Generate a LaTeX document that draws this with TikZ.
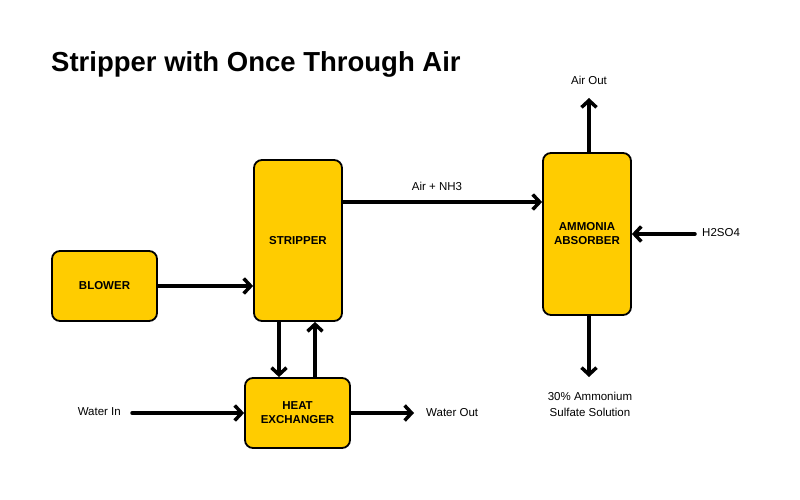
\documentclass[tikz,border=0pt]{standalone}
\usepackage{fontspec}
\setmainfont{Liberation Sans}
\usetikzlibrary{arrows.meta}
\definecolor{boxyellow}{HTML}{FFCC00}
\begin{document}
\begin{tikzpicture}[x=1pt,y=-1pt,
  unit/.style={draw=black,line width=1.8pt,fill=boxyellow,rounded corners=8pt,inner sep=0pt,align=center,font=\bfseries\fontsize{11.5}{14}\selectfont},
  flow/.style={line width=3.5pt,-{Straight Barb[length=7pt,width=15pt,line width=3.5pt]},line cap=round},
  lbl/.style={font=\fontsize{11.5}{16}\selectfont,align=center,inner sep=0pt}]
\useasboundingbox (0,0) rectangle (800,500);
\node[anchor=west,font=\bfseries\fontsize{27.5}{30}\selectfont,inner sep=0pt] (title) at (51,64) {Stripper with Once Through Air};
\node[unit,minimum width=105pt,minimum height=70pt] (blower) at (104.5,286) {BLOWER};
\node[unit,minimum width=88pt,minimum height=161pt] (stripper) at (298,240.5) {STRIPPER};
\node[unit,minimum width=105pt,minimum height=70pt] (hx) at (297.5,413) {HEAT\\EXCHANGER};
\node[unit,minimum width=88pt,minimum height=162pt] (abs) at (587,234) {AMMONIA\\ABSORBER};
\node[lbl] (airnh3) at (437,186) {Air + NH3};
\node[lbl] (airout) at (589,80) {Air Out};
\node[lbl,anchor=west] (h2so4) at (702,233) {H2SO4};
\node[lbl] (sulf) at (590,404) {30\% Ammonium\\Sulfate Solution};
\node[lbl,anchor=east] (win) at (121,412) {Water In};
\node[lbl,anchor=west] (wout) at (426,413) {Water Out};
\coordinate (bin) at (stripper.west |- blower.east);
\draw[flow] (blower.east) -- (bin);
\coordinate (sout) at (stripper.east |- 0,202);
\draw[flow] (sout) -- (abs.west |- sout);
\draw[flow] (stripper.south -| 279,0) -- (hx.north -| 279,0);
\draw[flow] (hx.north -| 315,0) -- (stripper.south -| 315,0);
\coordinate (wins) at (132,413);
\draw[flow] (wins) -- (hx.west);
\coordinate (wouts) at (414,413);
\draw[flow] (hx.east) -- (wouts);
\coordinate (aout) at (589,98);
\draw[flow] (abs.north -| aout) -- (aout);
\coordinate (hin) at (695,234);
\draw[flow] (hin) -- (abs.east);
\coordinate (sdown) at (589,377);
\draw[flow] (abs.south -| sdown) -- (sdown);
\end{tikzpicture}
\end{document}
